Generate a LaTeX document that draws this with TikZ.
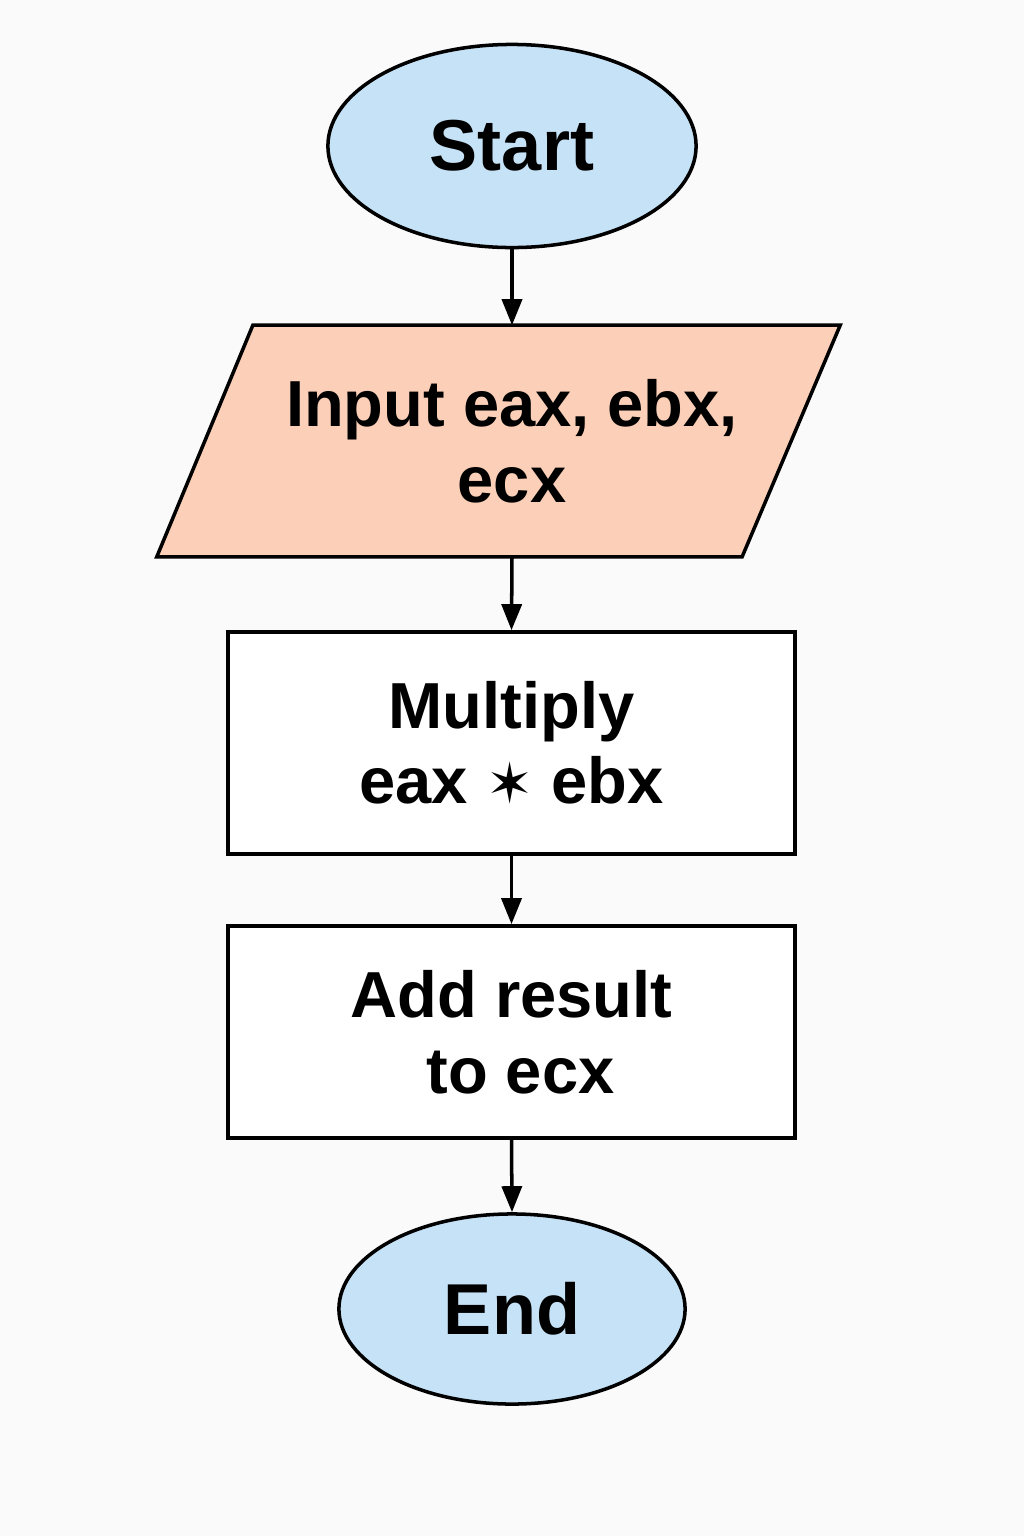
\documentclass[tikz,border=0pt]{standalone}
\usepackage{fontspec}
\setmainfont{Liberation Sans}
\newfontfamily\symfont{DejaVu Sans}
\usetikzlibrary{arrows.meta,shapes.geometric}
\definecolor{bgc}{RGB}{250,250,250}
\definecolor{termfill}{RGB}{198,226,246}
\definecolor{iofill}{RGB}{252,208,184}
\tikzset{
  lbl/.style={font=\fontsize{18.5}{21.5}\selectfont\bfseries, align=center, text=black},
  term/.style={ellipse, draw=black, line width=1pt, fill=termfill, inner sep=0pt,
    font=\fontsize{20.5}{24}\selectfont\bfseries},
  procbox/.style={rectangle, draw=black, line width=1pt, fill=white, inner sep=0pt,
    minimum width=5.67cm, lbl},
  iobox/.style={rectangle, inner sep=0pt, minimum width=6.83cm, minimum height=2.30cm, lbl},
  conn/.style={draw=black, line width=1pt, -{Triangle[length=0.26cm,width=0.2cm]}}
}
\begin{document}
\begin{tikzpicture}[x=0.01cm,y=-0.01cm]
\fill[bgc] (0,0) rectangle (1024,1536);
\useasboundingbox (0,0) rectangle (1024,1536);

\node[term, minimum width=3.68cm, minimum height=2.03cm] (start) at (512,146) {Start};

\node[iobox] (in) at (512,441) {};
\fill[iofill, draw=black, line width=1pt]
  ([xshift=-2.59cm]in.north) -- ([xshift=3.28cm]in.north) --
  ([xshift=2.30cm]in.south) -- ([xshift=-3.55cm]in.south) -- cycle;
\node[lbl] (intext) at (in.center) {Input eax, ebx,\\ecx};

\node[procbox, minimum height=2.22cm] (mul) at (511.5,743) {Multiply\\eax {\symfont\fontsize{16}{16}\selectfont ✶} ebx};
\node[procbox, minimum height=2.12cm] (add) at (511.5,1032) {Add result\\\ to ecx};

\node[term, minimum width=3.46cm, minimum height=1.90cm] (end) at (512,1309) {End};

\draw[conn] (start.south) -- (in.north);
\draw[conn] (in.south) -- (mul.north);
\draw[conn] (mul.south) -- (add.north);
\draw[conn] (add.south) -- (end.north);
\end{tikzpicture}
\end{document}
